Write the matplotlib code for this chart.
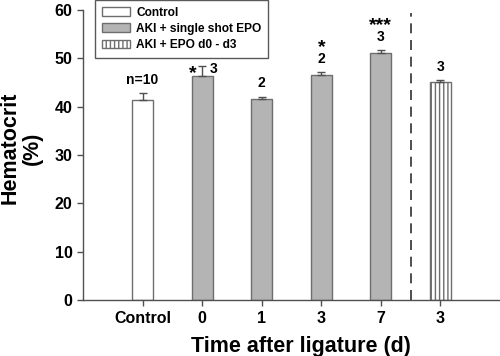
import matplotlib.pyplot as plt

plt.rcParams['font.family'] = ['Liberation Sans', 'DejaVu Sans']
plt.rcParams['font.weight'] = 'bold'
plt.rcParams['hatch.color'] = '#505050'
plt.rcParams['hatch.linewidth'] = 1.0

# data
tick_labels = ['Control', '0', '1', '3', '7', '3']
groups = ['Control', 'AKI + single shot EPO', 'AKI + single shot EPO',
          'AKI + single shot EPO', 'AKI + single shot EPO', 'AKI + EPO d0 - d3']
hematocrit = [41.4, 46.4, 41.5, 46.6, 51.0, 45.2]
sem = [1.4, 2.0, 0.6, 0.6, 0.7, 0.4]
n_labels = ['n=10', '3', '2', '2', '3', '3']
stars = ['', '*', '', '*', '***', '']

styles = {
    'Control': dict(color='white', hatch=None),
    'AKI + single shot EPO': dict(color='#b4b4b4', hatch=None),
    'AKI + EPO d0 - d3': dict(color='white', hatch='||||'),
}

fig = plt.figure(figsize=(5.0, 3.56), dpi=100)
ax = fig.add_axes([0.166, 0.157, 0.834, 0.815])

x = list(range(len(hematocrit)))
done = set()
for i in x:
    g = groups[i]
    st = styles[g]
    lab = g if g not in done else None
    done.add(g)
    ax.bar(i, hematocrit[i], width=0.35, color=st['color'], hatch=st['hatch'],
           edgecolor='#6e6e6e', linewidth=1.0, label=lab, zorder=2)
    ax.errorbar(i, hematocrit[i], yerr=[[0], [sem[i]]], fmt='none',
                ecolor='#505050', elinewidth=1.0, capsize=3, capthick=1.0, zorder=3)

# n and significance labels
for i in x:
    top = hematocrit[i] + sem[i]
    if stars[i] and i == 1:
        # star left, n right of the error bar
        ax.annotate(stars[i], (i, top), xytext=(-7, -8.3), textcoords='offset points',
                    ha='center', va='baseline', fontsize=14)
        ax.annotate(n_labels[i], (i, top), xytext=(8, -4.8), textcoords='offset points',
                    ha='center', va='baseline', fontsize=10)
        continue
    ax.annotate(n_labels[i], (i, top), xytext=(0, 6.5), textcoords='offset points',
                ha='center', va='baseline', fontsize=10)
    if stars[i]:
        ax.annotate(stars[i], (i, top), xytext=(0, 14.5), textcoords='offset points',
                    ha='center', va='baseline', fontsize=14)

ax.axvline(4.5, ymin=0, ymax=0.99, color='#303030', linestyle=(0, (6, 4)), linewidth=1.2)

ax.set_xlim(-1, 6)
ax.set_ylim(0, 60)
ax.set_xticks(x)
ax.set_xticklabels(tick_labels)
ax.set_yticks(range(0, 61, 10))
ax.tick_params(labelsize=11.5, direction='out', length=4, width=1, color='#505050')
for lbl in ax.get_xticklabels() + ax.get_yticklabels():
    lbl.set_fontweight('bold')
for s in ['top', 'right']:
    ax.spines[s].set_visible(False)
for s in ['left', 'bottom']:
    ax.spines[s].set_color('#505050')
    ax.spines[s].set_linewidth(1.0)

ax.set_ylabel('Hematocrit\n(%)', fontsize=15.5, fontweight='bold', linespacing=1.05)
ax.yaxis.set_label_coords(-0.097, 0.524)
ax.set_xlabel('Time after ligature (d)', fontsize=15.5, fontweight='bold')
ax.xaxis.set_label_coords(0.522, -0.125)

leg = fig.legend(loc='upper left', bbox_to_anchor=(0.19, 1.0), fontsize=8.6,
                 frameon=True, fancybox=False, edgecolor='#303030', borderpad=0.55,
                 labelspacing=0.35, handlelength=2.4, handleheight=0.7, handletextpad=0.5,
                 borderaxespad=0)
leg.get_frame().set_linewidth(1.0)
for t in leg.get_texts():
    t.set_fontweight('bold')

fig.savefig('out.png', dpi=100)
